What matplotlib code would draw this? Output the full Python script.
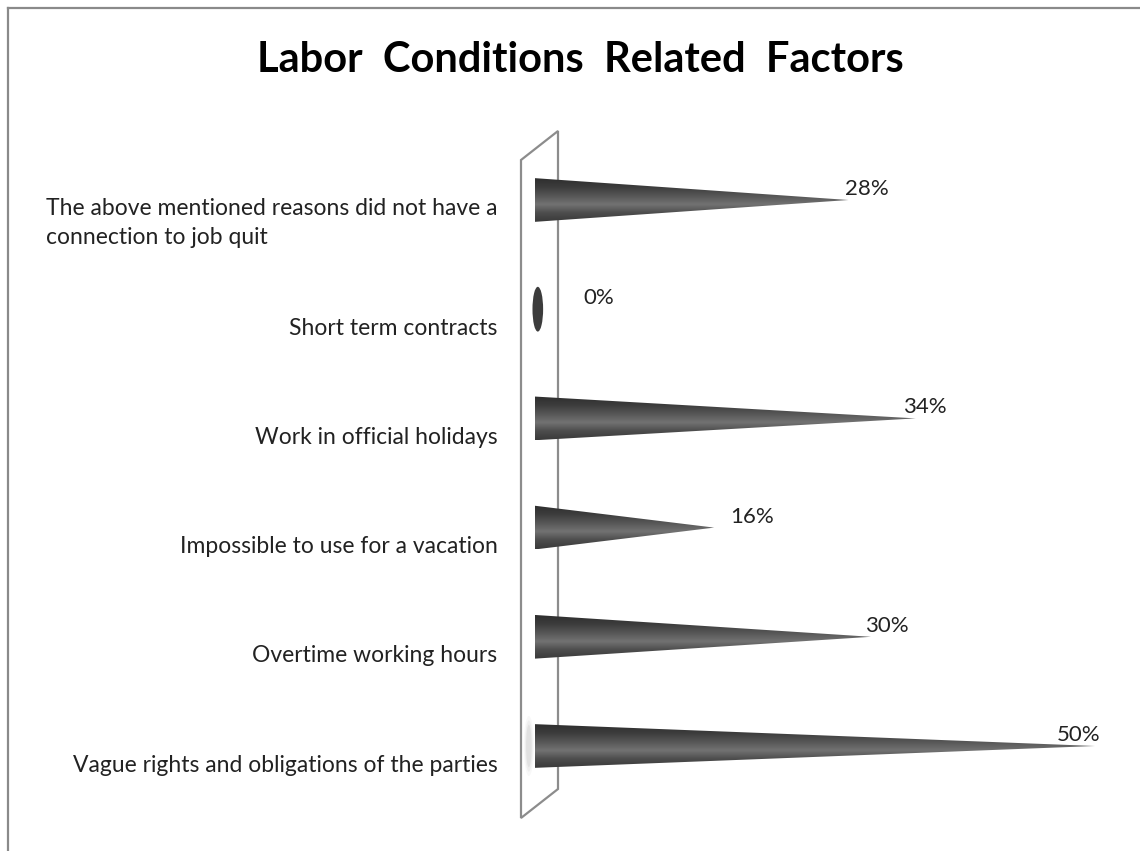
import numpy as np
import matplotlib

matplotlib.use("Agg")

import matplotlib.pyplot as plt
import matplotlib.transforms as mtransforms
from matplotlib.colors import LinearSegmentedColormap
from matplotlib.lines import Line2D
from matplotlib.patches import Ellipse, Polygon

# data, bottom to top
categories = [
    "Vague rights and obligations of the parties",
    "Overtime working hours",
    "Impossible to use for a vacation",
    "Work in official holidays",
    "Short term contracts",
    "The above mentioned reasons did not have a\nconnection to job quit",
]
values = [50, 30, 16, 34, 0, 28]
title = "Labor  Conditions  Related  Factors"

W, H = 1140, 851
plt.rcParams["font.family"] = ["Lato", "DejaVu Sans"]

fig = plt.figure(figsize=(W / 100, H / 100), dpi=100)
fig.patch.set_facecolor("white")

# frame edges visible at top and left
fig.add_artist(Line2D([8 / W, 8 / W], [0, 1 - 8 / H], color="#8a8a8a", lw=1.6))
fig.add_artist(Line2D([8 / W, 1], [1 - 8 / H, 1 - 8 / H], color="#8a8a8a", lw=1.6))

fig.text(580 / W, 1 - 60 / H, title, ha="center", va="center",
         fontsize=30, fontweight="bold", color="black")

# axes: 0% at x=535px, 50% at x=1095px; categories from y=746px to y=200px
step = (746 - 200) / 5
ax = fig.add_axes([535 / W, (H - 746 - step / 2) / H, 560 / W, step * 6 / H])
ax.set_xlim(0, 50)
ax.set_ylim(-0.5, 5.5)
for s in ax.spines.values():
    s.set_visible(False)
ax.set_xticks([])
ax.set_yticks(range(len(categories)))
ax.set_yticklabels(categories, fontsize=16.5, color="#222222")
ax.tick_params(axis="y", length=0, pad=27)
shift = mtransforms.ScaledTranslation(0, -17 / 100, fig.dpi_scale_trans)
for lab in ax.get_yticklabels():
    lab.set_ha("right")
    lab.set_multialignment("left")
    lab.set_linespacing(1.45)
    lab.set_transform(lab.get_transform() + shift)

# side wall (slanted panel)
px = 560 / 50
wall = [(-14 / px, (746 - 160) / step), (23 / px, (746 - 131) / step),
        (23 / px, (746 - 789) / step), (-14 / px, (746 - 818) / step)]
ax.add_patch(Polygon(wall, closed=True, fc="white", ec="#8c8c8c", lw=1.6,
                     clip_on=False, zorder=1))

# cone shading
cmap = LinearSegmentedColormap.from_list(
    "cone", ["#2e2e2e", "#3c3c3c", "#565656", "#727272", "#4c4c4c", "#3a3a3a"])
grad = np.linspace(0, 1, 200).reshape(-1, 1)

h = 0.2
a = 0.45
t = np.linspace(0, np.pi, 40)
for i, v in enumerate(values):
    if v == 0:
        ax.add_patch(Ellipse((0.25, i), 0.95, 0.41, fc="#3c3c3c", ec="none",
                             clip_on=False, zorder=3))
    else:
        ex = -a * np.sin(t)
        ey = i + h * np.cos(t)
        verts = np.column_stack([np.append(ex, v), np.append(ey, i)])
        poly = Polygon(verts, closed=True, fc="none", ec="none", clip_on=False)
        ax.add_patch(poly)
        im = ax.imshow(grad[::-1], cmap=cmap, aspect="auto", origin="lower",
                       extent=[-a, v, i - h, i + h], zorder=3)
        im.set_clip_path(poly)
    ax.text(0.856 * v + 5.7, i + 0.1, f"{v}%", ha="center", va="center",
            fontsize=16, color="#222222", zorder=4)

# soft shadow of the longest cone on the wall
top = int(np.argmax(values))
for k, al in enumerate([0.05, 0.07, 0.1]):
    ax.add_patch(Ellipse((-0.55, top), 0.9 - 0.2 * k, 0.55 - 0.08 * k,
                         fc="#777777", ec="none", alpha=al, clip_on=False,
                         zorder=2))

ax.set_xlim(0, 50)
ax.set_ylim(-0.5, 5.5)

fig.savefig("out.png", dpi=100)
